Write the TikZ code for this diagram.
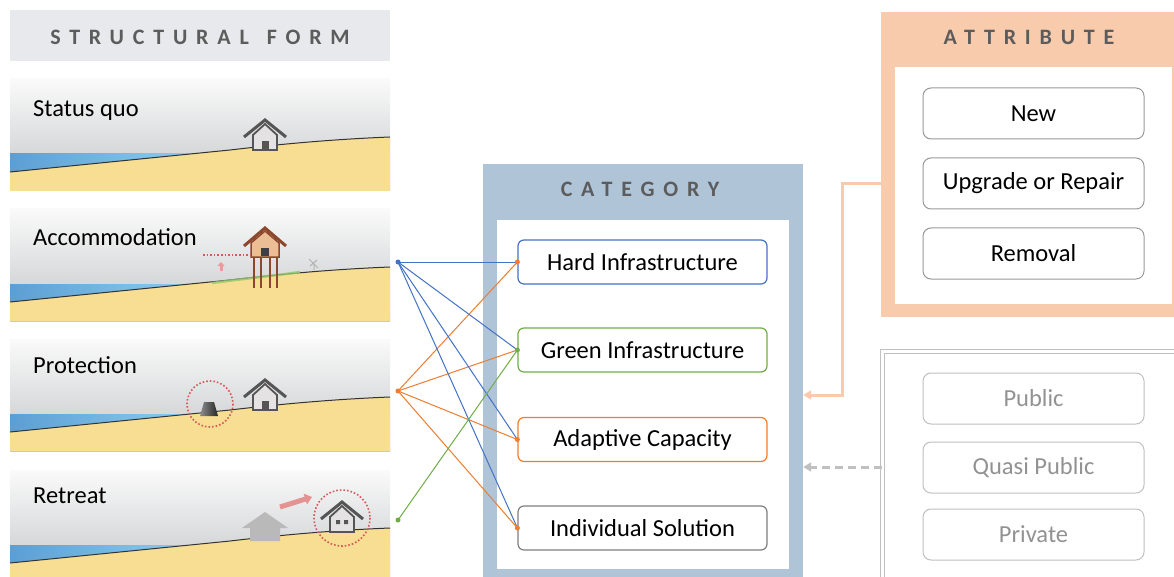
\documentclass[tikz,border=0pt]{standalone}
\usepackage{fontspec}
\setmainfont{Carlito}
\usetikzlibrary{arrows.meta, positioning}

\definecolor{skytop}{RGB}{250,250,250}
\definecolor{skybot}{RGB}{196,198,201}
\definecolor{sand}{RGB}{248,222,146}
\definecolor{sea}{RGB}{142,208,240}
\definecolor{seadeep}{RGB}{80,146,204}
\definecolor{headgray}{RGB}{232,233,236}
\definecolor{titlegray}{RGB}{92,92,92}
\definecolor{catblue}{RGB}{176,196,216}
\definecolor{attrsalmon}{RGB}{248,203,173}
\definecolor{linkblue}{RGB}{68,114,196}
\definecolor{linkgreen}{RGB}{112,173,71}
\definecolor{linkorange}{RGB}{237,125,49}
\definecolor{boxgray}{RGB}{127,127,127}
\definecolor{mutegray}{RGB}{192,192,192}
\definecolor{housegray}{RGB}{85,85,85}
\definecolor{wallgray}{RGB}{228,226,226}
\definecolor{markred}{RGB}{214,88,88}
\definecolor{stiltbrown}{RGB}{140,72,45}
\definecolor{stiltwall}{RGB}{236,190,150}
\definecolor{grass}{RGB}{150,200,110}

\newcommand{\spaced}[1]{{\addfontfeature{LetterSpace=40}#1}}

\tikzset{
    house/.pic={
        \filldraw[fill=wallgray, draw=housegray, line width=1.8pt]
            (-12,0) -- (-12,-15) -- (0,-26) -- (12,-15) -- (12,0) -- cycle;
        \draw[housegray, line width=3pt] (-21,-13) -- (0,-30) -- (21,-13);
        \fill[housegray] (-3.5,0) rectangle (3.5,-9);
    },
    cottage/.pic={
        \filldraw[fill=wallgray, draw=housegray, line width=1.8pt]
            (-12,0) -- (-12,-15) -- (0,-26) -- (12,-15) -- (12,0) -- cycle;
        \draw[housegray, line width=3pt] (-21,-13) -- (0,-30) -- (21,-13);
        \fill[housegray] (-6,-8) rectangle (-2,-12) (2,-8) rectangle (6,-12);
    },
}

\begin{document}
\begin{tikzpicture}[x=1pt, y=-1pt,
    title/.style={font=\fontsize{22}{26}\selectfont\bfseries, text=titlegray},
    formlabel/.style={font=\fontsize{24.5}{28}\selectfont, anchor=base west, inner sep=0pt},
    panel/.style={rectangle, inner sep=0pt},
    catbox/.style={rectangle, draw, rounded corners=6pt, fill=white, line width=1.2pt,
        minimum width=249pt, minimum height=44pt, font=\fontsize{24.5}{28}\selectfont},
    attrbox/.style={rectangle, draw=boxgray!80, rounded corners=8pt, fill=white, line width=1pt,
        minimum width=221pt, minimum height=51pt, font=\fontsize{24.5}{28}\selectfont},
    ownbox/.style={attrbox, draw=mutegray, text=boxgray!85},
    link/.style={line width=1pt},
    dot/.style={circle, fill, inner sep=0pt, minimum size=5pt},
    ground/.style={draw=black!80, line width=1pt},
    marker/.style={markred, dotted, line width=1.6pt},
]
\fill[white] (0,0) rectangle (1174,577);
\useasboundingbox (0,0) rectangle (1174,577);

%% Left column: structural forms
\node[panel, fill=headgray, minimum width=380pt, minimum height=51pt] (formhead) at (200,35.5) {};
\node[title] (formtitle) at (200,37) {\spaced{STRUCTURAL}\hspace{18pt}\spaced{FORM}};

\foreach \py in {79,209,339,470} {
    \begin{scope}[shift={(0,\py)}]
        \shade[top color=skytop, bottom color=skybot] (10,0) rectangle (390,112);
        \shade[left color=seadeep!80!sea, middle color=sea, right color=sea] (10,75) rectangle (205,100);
        \fill[sand] (10,93) .. controls (100,84) and (170,77) .. (230,71)
            .. controls (290,64) and (340,60) .. (390,58) -- (390,112) -- (10,112) -- cycle;
        \draw[ground] (10,93) .. controls (100,84) and (170,77) .. (230,71)
            .. controls (290,64) and (340,60) .. (390,58);
    \end{scope}
}

\node[formlabel] (statusquo) at (33,117) {Status quo};
\node[formlabel] (accommodation) at (33,245) {Accommodation};
\node[formlabel] (protection) at (33,373) {Protection};
\node[formlabel] (retreat) at (33,503) {Retreat};

% status quo
\pic at (265,150) {house};

% accommodation: raised house on stilts
\draw[grass, line width=2.5pt, opacity=0.8] (212,283) .. controls (250,278) and (280,275) .. (300,272);
\foreach \sx in {254,261,270,277}
    \draw[stiltbrown, line width=2pt] (\sx,256) -- (\sx,288);
\filldraw[fill=stiltwall, draw=stiltbrown, line width=1.5pt]
    (251,257) -- (251,243) -- (265,231) -- (279,243) -- (279,257) -- cycle;
\draw[stiltbrown, line width=3pt] (244,246) -- (265,228) -- (286,246);
\fill[black!75] (261,248) rectangle (269,256);
\draw[marker] (203,255) -- (250,255);
\draw[markred!60, line width=3pt, -{Triangle[length=4pt, width=7pt]}] (221,271) -- (221,262);
\draw[gray!60, line width=1pt] (309,259) -- (318,268) (310,266) -- (317,260) (314,264) -- (314,270);

% protection: sea wall
\shade[left color=black!45, right color=black!85] (200,416) -- (204,402) -- (214,402) -- (218,416) -- cycle;
\draw[marker] (210,404) circle (23);
\pic at (265,410) {house};

% retreat: house moved inland
\fill[gray!55] (250,541) -- (250,528) -- (242,528) -- (265,512) -- (288,528) -- (280,528) -- (280,541) -- cycle;
\draw[markred!65, line width=5pt, -{Triangle[length=7pt, width=11pt]}] (280,507) -- (312,497);
\draw[marker] (342,518) circle (28);
\pic at (342,532) {cottage};

%% Middle column: category
\node[panel, fill=catblue, minimum width=320pt, minimum height=425pt] (catpanel) at (643,376.5) {};
\node[panel, fill=white, minimum width=292pt, minimum height=349pt] (catinner) at (643,394.5) {};
\node[title] (cattitle) at (640,189) {\spaced{CATEGORY}};

\node[catbox, draw=linkblue] (hardinf) at (642.5,262) {Hard Infrastructure};
\node[catbox, draw=linkgreen] (greeninf) at (642.5,350) {Green Infrastructure};
\node[catbox, draw=linkorange] (adapcap) at (642.5,439.5) {Adaptive Capacity};
\node[catbox, draw=boxgray] (indsol) at (642.5,528) {Individual Solution};

%% Links from forms to categories
\node[dot, fill=linkblue] (accdot) at (398,262) {};
\node[dot, fill=linkorange] (protdot) at (398,391) {};
\node[dot, fill=linkgreen] (retdot) at (398,520) {};

\foreach \c in {hardinf, greeninf, adapcap, indsol} {
    \draw[link, linkblue] (accdot.center) -- (\c.west);
    \draw[link, linkorange] (protdot.center) -- (\c.west);
}
\draw[link, linkgreen] (retdot.center) -- (greeninf.west);

\fill[linkorange] (hardinf.west) circle (2.5pt);
\fill[linkgreen] (greeninf.west) circle (2.5pt);
\fill[linkorange] (adapcap.west) circle (2.5pt);
\fill[linkorange] (indsol.west) circle (2.5pt);

%% Right column: attribute
\node[panel, fill=attrsalmon, minimum width=300pt, minimum height=305pt] (attrpanel) at (1031,164.5) {};
\node[panel, fill=white, minimum width=277pt, minimum height=237pt] (attrinner) at (1033.5,185.5) {};
\node[title] (attrtitle) at (1029,37) {\spaced{ATTRIBUTE}};

\node[attrbox] (newattr) at (1033.5,113.5) {New};
\node[attrbox] (upgrade) at (1033.5,183.5) {Upgrade or Repair};
\node[attrbox] (removal) at (1033.5,253.5) {Removal};

%% Right column: ownership
\node[panel, fill=white, draw=mutegray, double=white, double distance=3pt, line width=1pt,
    minimum width=300pt, minimum height=245pt] (ownpanel) at (1032,473.5) {};
\node[ownbox] (public) at (1033.5,398.5) {Public};
\node[ownbox] (quasi) at (1033.5,467.5) {Quasi Public};
\node[ownbox] (private) at (1033.5,534.5) {Private};

%% Arrows into category
\coordinate (attrbend) at (842,395);
\draw[attrsalmon, line width=3pt, -{Triangle[length=8pt, width=9pt]}]
    (attrpanel.west |- 0,184) -| (attrbend) -- (attrbend -| catpanel.east);
\draw[mutegray, line width=3pt, dash pattern=on 8pt off 5pt, -{Triangle[length=8pt, width=9pt]}]
    (ownpanel.west |- 0,467) -- (catpanel.east |- 0,467);

\end{tikzpicture}
\end{document}
